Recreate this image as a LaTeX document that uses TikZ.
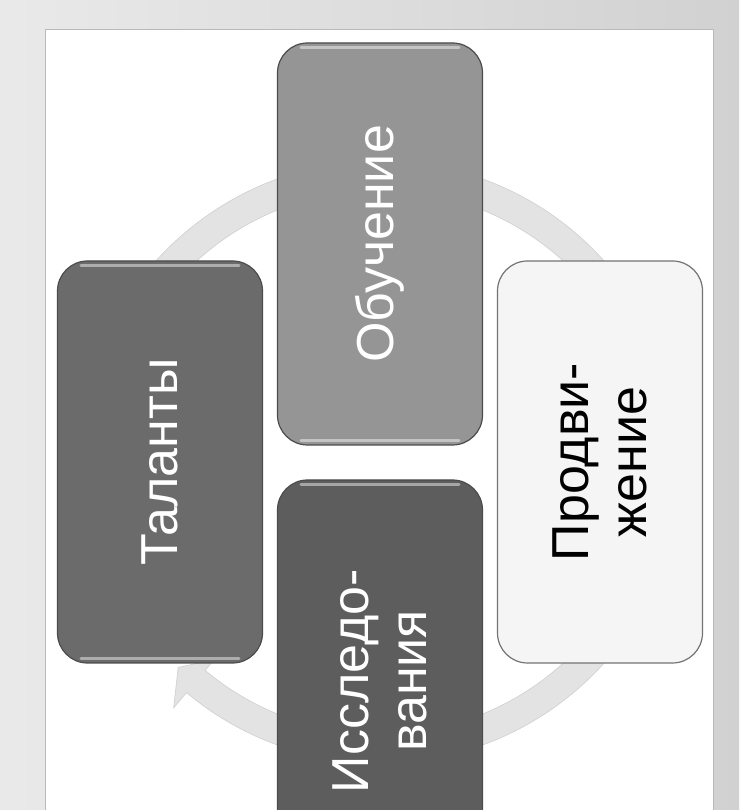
\documentclass[tikz,border=0pt]{standalone}
\usepackage{fontspec}
\setmainfont{Liberation Sans}
\usetikzlibrary{arrows.meta,positioning}
\definecolor{topgray}{HTML}{959595}
\definecolor{leftgray}{HTML}{6B6B6B}
\definecolor{botgray}{HTML}{5D5D5D}
\definecolor{rightfill}{HTML}{F5F5F5}
\definecolor{ringgray}{HTML}{E3E3E3}
\definecolor{ringedge}{HTML}{CFCFCF}
\begin{document}
\begin{tikzpicture}[x=1pt,y=1pt,
  box/.style={rotate=90,draw=black!70,line width=1.2pt,rounded corners=30pt,minimum width=402pt,minimum height=205pt,align=center,font=\fontsize{52}{58}\selectfont,text=white},
  gloss/.style={white,opacity=.45,line width=2.5pt,line cap=round}]
\useasboundingbox (0,0) rectangle (739,810);
\clip (0,0) rectangle (739,810);
\shade[left color=gray!17,right color=gray!36] (0,0) rectangle (739,810);
\fill[white,draw=gray!55,line width=1pt] (45,-10) rectangle (713,780);
\filldraw[fill=ringgray,draw=ringedge,line width=.6pt,shift={(380,348)}] (215:301pt) arc[start angle=215,end angle=-130,radius=301pt] -- (230:321pt) -- (225.5:288pt) -- (230:258pt) -- (230:272pt) arc[start angle=-130,end angle=215,radius=272pt] -- cycle;
\node[box,fill=topgray] (learn) at (380,566) {Обучение};
\node[box,fill=leftgray] (talent) at (160,348) {Таланты};
\node[box,fill=rightfill,draw=black!55,text=black] (promo) at (600,348) {Продви-\\жение};
\node[box,fill=botgray] (research) at (380,129) {Исследо-\\вания};
\foreach \n in {learn,talent,research}{
  \draw[gloss] ([shift={(24pt,-5pt)}]\n.north east) -- ([shift={(-24pt,-5pt)}]\n.south east);
  \draw[gloss] ([shift={(24pt,5pt)}]\n.north west) -- ([shift={(-24pt,5pt)}]\n.south west);
}
\end{tikzpicture}
\end{document}
